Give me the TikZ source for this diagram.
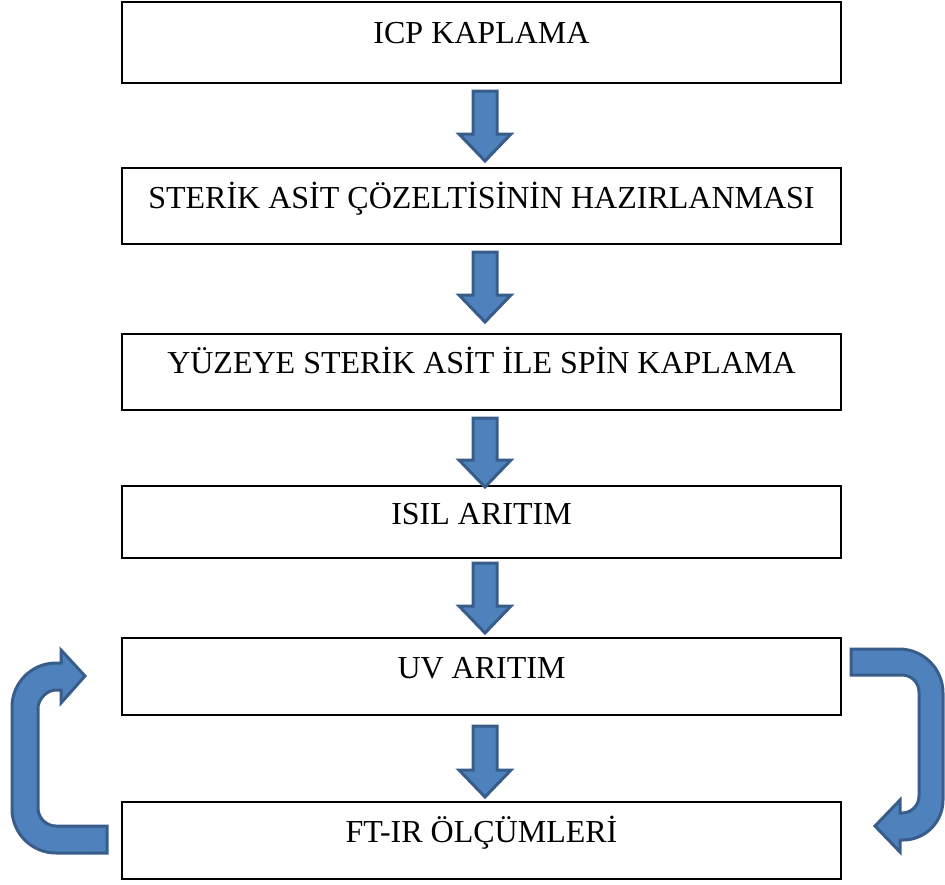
\documentclass[tikz,border=0pt]{standalone}
\usepackage{fontspec}
\setmainfont{Liberation Serif}
\definecolor{afill}{HTML}{4F81BD}
\definecolor{adraw}{HTML}{385D8A}
\tikzset{
  boxst/.style={draw=black, line width=2pt, inner sep=0pt, minimum width=719pt},
  lab/.style={anchor=base, inner sep=0pt, font=\fontsize{32}{38}\selectfont},
  blk/.style={fill=afill, draw=adraw, line width=3pt, line join=miter},
}
\newcommand\blockdown[2]{%
  \pgfmathsetmacro\hy{#2-27}%
  \draw[blk] (473,#1) -- (497,#1) -- (497,\hy) -- (511,\hy) -- (485,#2) -- (459,\hy) -- (473,\hy) -- cycle;}
\begin{document}
\begin{tikzpicture}[x=1pt,y=-1pt]
\useasboundingbox (0,0) rectangle (945,884);
\node[boxst, minimum height=81pt] (b1) at (481.5,42.5) {};
\node[boxst, minimum height=76pt] (b2) at (481.5,206) {};
\node[boxst, minimum height=76pt] (b3) at (481.5,372) {};
\node[boxst, minimum height=72pt] (b4) at (481.5,522) {};
\node[boxst, minimum height=77pt] (b5) at (481.5,676.5) {};
\node[boxst, minimum height=77pt] (b6) at (481.5,840.5) {};
\node[lab] (t1) at ([yshift=-0.5pt]b1.center) {ICP KAPLAMA};
\node[lab] (t2) at ([yshift=-2pt]b2.center) {STERİK ASİT ÇÖZELTİSİNİN HAZIRLANMASI};
\node[lab] (t3) at ([yshift=-1.5pt]b3.center) {YÜZEYE STERİK ASİT İLE SPİN KAPLAMA};
\node[lab] (t4) at ([yshift=-2pt]b4.center) {ISIL ARITIM};
\node[lab] (t5) at ([yshift=-1.5pt]b5.center) {UV ARITIM};
\node[lab] (t6) at ([yshift=-1.5pt]b6.center) {FT-IR ÖLÇÜMLERİ};
\blockdown{91}{161}
\blockdown{252}{322}
\blockdown{418}{487}
\blockdown{563}{633}
\blockdown{726}{797}
% left U-turn arrow (FT-IR -> UV)
\draw[blk] (107,826) -- (56,826) .. controls (46.1,826) and (38,817.9) .. (38,808)
  -- (38,708) .. controls (38,699.9) and (46.1,690) .. (56,690)
  -- (61,690) -- (61,703) -- (85,676) -- (61,650) -- (61,663)
  -- (56,663) .. controls (31.7,663) and (12,682.7) .. (12,707)
  -- (12,809) .. controls (12,833.3) and (31.7,853) .. (56,853)
  -- (107,853) -- cycle;
% right U-turn arrow (UV -> FT-IR)
\draw[blk] (851,649) -- (899,649) .. controls (923.3,649) and (943,668.7) .. (943,693)
  -- (943,800) .. controls (943,822.1) and (925.1,840) .. (903,840)
  -- (900,840) -- (900,852) -- (875,826) -- (900,800) -- (900,813)
  -- (902,813) .. controls (911.4,813) and (919,805.4) .. (919,796)
  -- (919,692) .. controls (919,682.6) and (911.4,675) .. (902,675)
  -- (851,675) -- cycle;
\end{tikzpicture}
\end{document}
